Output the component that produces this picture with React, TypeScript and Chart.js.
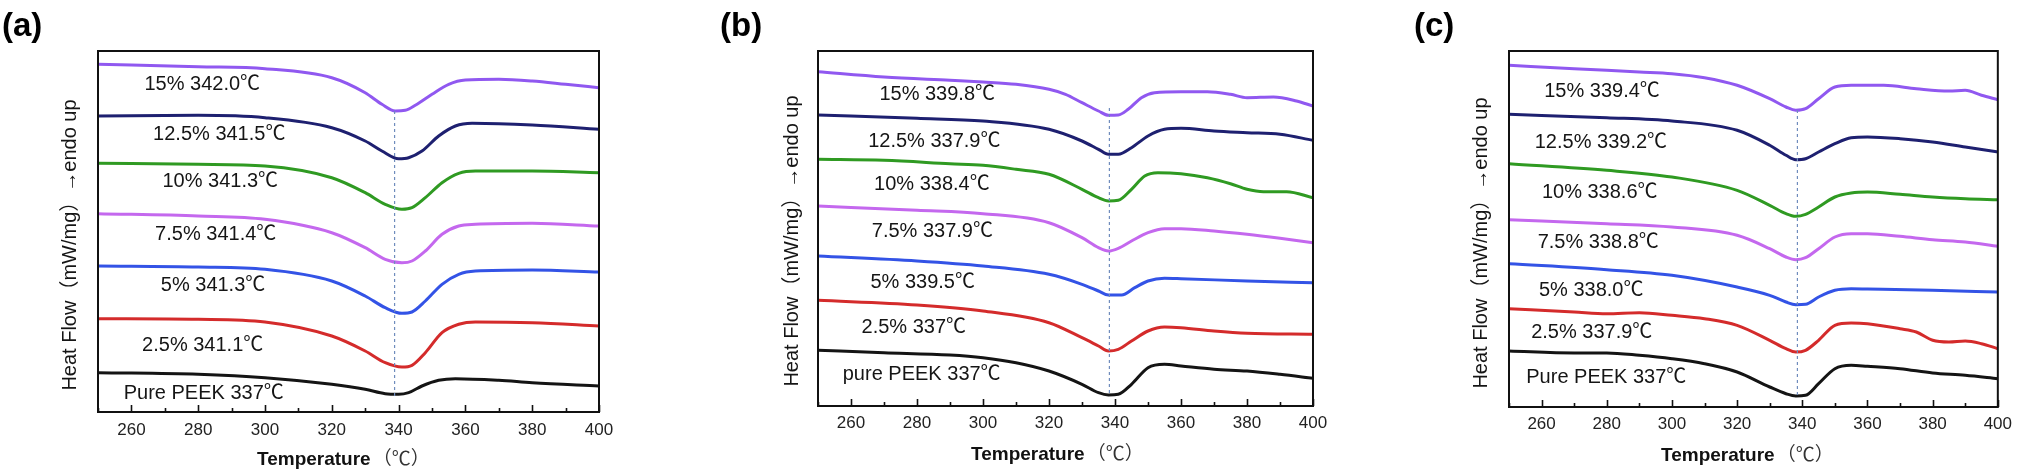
import { useEffect, useRef } from "react"
import { Chart, registerables } from "chart.js"

Chart.register(...registerables)

// samples, top curve to bottom curve
const seriesNames = ["15%", "12.5%", "10%", "7.5%", "5%", "2.5%", "Pure PEEK"]
const lineColors = ["#9058f0", "#1e2070", "#2f9a22", "#c468ee", "#3353e6", "#d42b2b", "#141414"]
const xTickLabels = ["260", "280", "300", "320", "340", "360", "380", "400"]

// (a) temperature (°C) / stacked heat flow (arb. units)
const tempA = [
    [250, 280, 300, 320, 330, 335, 339, 342, 345, 350, 355, 360, 370, 380, 390, 400],
    [250, 280, 300, 320, 330, 335, 340, 343, 347, 352, 357, 362, 380, 400],
    [250, 280, 300, 320, 330, 336, 341, 344, 348, 353, 358, 363, 380, 400],
    [250, 280, 300, 320, 330, 336, 341, 344, 348, 353, 358, 363, 380, 400],
    [250, 280, 300, 320, 330, 336, 341, 344, 348, 353, 358, 363, 380, 400],
    [250, 280, 300, 320, 330, 336, 341, 344, 348, 353, 358, 363, 380, 400],
    [250, 280, 300, 320, 330, 336, 340, 343, 347, 352, 357, 370, 380, 400],
]
const flowA = [
    [347.7, 345.3, 343.3, 334.3, 319.3, 307.7, 301, 301.7, 306.7, 317.7, 327.7, 332, 332.7, 331, 327.7, 324.3],
    [296, 296.7, 294.3, 284.3, 271, 261, 253.3, 254.3, 261, 276, 286, 288.7, 287, 282.7],
    [248.7, 247.7, 246, 234.3, 219.3, 207.7, 202.7, 204.3, 214.3, 229.3, 238.7, 241, 241, 239.3],
    [198.3, 196, 192.7, 179.3, 164.3, 152.7, 149.3, 151, 161, 177.7, 186, 187.7, 188.7, 186],
    [146, 145, 142.7, 131, 116, 104.3, 98.7, 100, 111, 127.7, 137.7, 141, 142, 140],
    [93.3, 92.7, 90, 76, 61, 49.3, 45, 46.7, 59.3, 79.3, 87.7, 90, 89.3, 86],
    [39.3, 37.7, 34.3, 27.7, 22.7, 18.3, 17.7, 19.3, 26, 31.7, 33.3, 31.7, 29.3, 26],
]
const labelsA = ["15% 342.0℃", "12.5% 341.5℃", "10% 341.3℃", "7.5% 341.4℃", "5% 341.3℃", "2.5% 341.1℃", "Pure PEEK 337℃"]
const dashTempA = [338.8, 338.8]
const dashFlowA = [301, 16]

// (b)
const tempB = [
    [250, 270, 290, 300, 310, 320, 325, 330, 335, 338, 341, 344, 348, 352, 360, 368, 375, 380, 388, 395, 400],
    [250, 280, 300, 320, 330, 335, 338, 341, 345, 350, 355, 360, 370, 380, 390, 400],
    [250, 270, 290, 300, 310, 320, 330, 335, 338, 341, 345, 349, 353, 360, 368, 375, 380, 385, 392, 400],
    [250, 280, 300, 320, 330, 335, 338, 341, 345, 350, 355, 360, 370, 380, 390, 400],
    [250, 280, 300, 320, 330, 335, 338, 342, 346, 350, 355, 360, 380, 400],
    [250, 280, 300, 320, 330, 335, 338, 341, 345, 350, 355, 360, 370, 380, 400],
    [250, 270, 290, 300, 310, 320, 330, 335, 338, 341, 345, 350, 355, 360, 370, 380, 390, 400],
]
const flowB = [
    [334.3, 329, 325.7, 324, 321.7, 316.7, 311.7, 303.3, 295, 290.7, 291, 296.7, 308.3, 313.3, 314.3, 314.3, 311.7, 308.3, 309, 305, 300],
    [291, 287.7, 285, 276.7, 265, 256.7, 251.7, 251.7, 258.3, 270, 276.7, 277.7, 275, 273.3, 271.7, 265.7],
    [246.7, 245.7, 242.3, 240.7, 236.7, 231.7, 216.7, 208.3, 205, 205.7, 216.7, 230, 233.3, 232.3, 228.3, 222.3, 216.7, 214.3, 214.3, 208.3],
    [200, 195.7, 192.3, 183.3, 168.3, 158.3, 155, 157.7, 165, 173.3, 177.3, 177.3, 175, 171.7, 167.7, 163.3],
    [150, 145, 140, 131.7, 121.7, 115, 111, 111, 118.3, 125, 127.7, 127.3, 125, 123.3],
    [105.7, 101, 95, 83.3, 68.3, 60, 55, 56.7, 65, 75, 79, 78.3, 75, 72.7, 71.7],
    [55.7, 53.3, 51, 48.3, 43.3, 35, 21.7, 13.3, 11, 11.7, 21.7, 38.3, 41.7, 40, 36.7, 35, 31.7, 27.7],
]
const labelsB = ["15% 339.8℃", "12.5% 337.9℃", "10% 338.4℃", "7.5% 337.9℃", "5% 339.5℃", "2.5% 337℃", "pure PEEK 337℃"]
const dashTempB = [338.3, 338.3]
const dashFlowB = [298, 10]

// (c)
const tempC = [
    [250, 270, 290, 300, 310, 320, 330, 335, 338, 341, 345, 350, 355, 365, 375, 385, 390, 395, 400],
    [250, 280, 300, 320, 330, 335, 338, 341, 345, 350, 355, 360, 370, 380, 390, 400],
    [250, 280, 300, 320, 330, 335, 338, 341, 345, 350, 355, 360, 370, 380, 390, 400],
    [250, 280, 300, 320, 330, 335, 338, 341, 345, 350, 355, 360, 370, 380, 390, 400],
    [250, 280, 300, 320, 330, 335, 338, 341, 345, 350, 355, 360, 380, 400],
    [250, 270, 280, 290, 300, 310, 320, 330, 335, 338, 341, 345, 350, 355, 360, 370, 375, 380, 385, 390, 395, 400],
    [250, 270, 280, 290, 300, 310, 320, 330, 335, 338, 341, 345, 350, 355, 360, 370, 380, 390, 400],
]
const flowC = [
    [341.7, 338.3, 335, 333.3, 329.3, 321.7, 308.3, 300, 296.7, 298.3, 308.3, 320, 321.7, 321.7, 318.3, 316, 316.7, 311.7, 307.3],
    [292.7, 289.3, 286, 276.7, 261.7, 251.7, 247.3, 248.3, 255, 263.3, 269.3, 270, 268.3, 265, 260, 255],
    [243.3, 236.7, 230, 216.7, 201.7, 193.3, 190.7, 192.7, 200, 210, 214, 215, 212.7, 210, 208.3, 207.3],
    [187.3, 183.3, 180, 171.7, 158.3, 150, 147.3, 149.3, 158.3, 170, 173.3, 173.3, 170.7, 167.3, 165, 160.7],
    [143.3, 137.3, 131.7, 120, 111.7, 105, 102.3, 102.7, 110, 116.7, 118.3, 118, 116.7, 115],
    [98.3, 95, 93.3, 94.3, 91.7, 88.3, 81.7, 66.7, 58.3, 55, 56.7, 66.7, 81.7, 84, 83.3, 78.3, 75, 66.7, 65, 66, 63.3, 58.3],
    [56, 54, 54, 51.7, 48.3, 43.3, 35, 20, 13.3, 11, 11.7, 23.3, 38.3, 41.7, 40.7, 38.3, 34, 31.7, 28.3],
]
const labelsC = ["15% 339.4℃", "12.5% 339.2℃", "10% 338.6℃", "7.5% 338.8℃", "5% 338.0℃", "2.5% 337.9℃", "Pure PEEK 337℃"]
const dashTempC = [338.5, 338.5]
const dashFlowC = [297, 11.7]

// where each curve label sits (temperature, flow) - placement only
const labelAtA = [[263.9, 327.7], [266.5, 277.7], [269.3, 231], [267.1, 177.7], [268.8, 126.7], [263.2, 66.7], [257.7, 18.7]]
const labelAtB = [[268.6, 311.7], [265.2, 265], [267, 221.7], [266.3, 175], [265.9, 124], [263.2, 78.3], [257.5, 31.7]]
const labelAtC = [[260.8, 316], [257.9, 265], [260.1, 215], [258.8, 165], [259.2, 116.7], [256.8, 75], [255.3, 30]]

const FONT = '"Liberation Sans", Arial, "Noto Sans CJK SC", sans-serif'
const CJK = '"Noto Sans CJK SC", "Liberation Sans", sans-serif'
const H = 476

const panels = [
    {
        letter: "(a)", left: 0, width: 640, padLeft: 98, padRight: 41, top: 51, bottom: 412, yMax: 361, tickPad: 8,
        letterX: 2, yTitleX: 70, yTitleY: 245, xTitleX: 257, xTitleBase: 465,
        temps: tempA, flows: flowA, labels: labelsA, labelAt: labelAtA, dashT: dashTempA, dashF: dashFlowA,
    },
    {
        letter: "(b)", left: 680, width: 660, padLeft: 138, padRight: 27, top: 51, bottom: 406, yMax: 355, tickPad: 7,
        letterX: 40, yTitleX: 112, yTitleY: 241, xTitleX: 291, xTitleBase: 460,
        temps: tempB, flows: flowB, labels: labelsB, labelAt: labelAtB, dashT: dashTempB, dashF: dashFlowB,
    },
    {
        letter: "(c)", left: 1360, width: 659, padLeft: 149, padRight: 15, top: 51, bottom: 407, yMax: 356, tickPad: 7,
        letterX: 54, yTitleX: 121, yTitleY: 243, xTitleX: 301, xTitleBase: 461,
        temps: tempC, flows: flowC, labels: labelsC, labelAt: labelAtC, dashT: dashTempC, dashF: dashFlowC,
    },
]

type PanelCfg = (typeof panels)[number]

function DscPanel({ cfg }: { cfg: PanelCfg }) {
    const canvasRef = useRef<HTMLCanvasElement>(null)

    useEffect(() => {
        if (!canvasRef.current) return

        const decor = {
            id: "decor",
            afterDatasetsDraw(chart: any) {
                const { ctx, chartArea: a } = chart
                const x = chart.scales.x
                const y = chart.scales.y
                ctx.save()

                // curve labels
                ctx.fillStyle = "#151515"
                ctx.font = `20px ${FONT}`
                ctx.textAlign = "left"
                ctx.textBaseline = "middle"
                cfg.labels.forEach((txt, i) => {
                    ctx.fillText(txt, x.getPixelForValue(cfg.labelAt[i][0]), y.getPixelForValue(cfg.labelAt[i][1]))
                })

                // frame
                ctx.strokeStyle = "#111"
                ctx.lineWidth = 2
                ctx.strokeRect(a.left, a.top, a.right - a.left, a.bottom - a.top)

                // inward tick marks on the bottom axis
                ctx.lineWidth = 1.6
                x.ticks.forEach((t: any) => {
                    const px = Math.round(x.getPixelForValue(t.value)) + 0.5
                    const len = t.value % 20 === 0 ? 7 : 4
                    ctx.beginPath()
                    ctx.moveTo(px, a.bottom)
                    ctx.lineTo(px, a.bottom - len)
                    ctx.stroke()
                })

                // panel letter
                ctx.fillStyle = "#000"
                ctx.font = `bold 33px ${FONT}`
                ctx.textBaseline = "alphabetic"
                ctx.fillText(cfg.letter, cfg.letterX, 36)

                // x title
                ctx.font = `bold 19px ${FONT}`
                ctx.fillStyle = "#111"
                ctx.fillText("Temperature", cfg.xTitleX, cfg.xTitleBase)
                const w = ctx.measureText("Temperature").width
                ctx.font = `19px ${CJK}`
                ctx.fillStyle = "#333"
                ctx.fillText("（℃）", cfg.xTitleX + w + 2, cfg.xTitleBase)

                // y title
                ctx.translate(cfg.yTitleX, cfg.yTitleY)
                ctx.rotate(-Math.PI / 2)
                ctx.font = `20px ${FONT}`
                ctx.fillStyle = "#151515"
                ctx.textAlign = "center"
                ctx.textBaseline = "middle"
                ctx.fillText("Heat Flow（mW/mg）→endo up", 0, 0)

                ctx.restore()
            },
        }

        const datasets: any[] = [
            {
                label: "peak",
                data: cfg.dashT.map((t, i) => ({ x: t, y: cfg.dashF[i] })),
                borderColor: "#6f8cbd",
                borderWidth: 1.2,
                borderDash: [3, 3],
                pointRadius: 0,
            },
            ...seriesNames.map((name, s) => ({
                label: name,
                data: cfg.temps[s].map((t, i) => ({ x: t, y: cfg.flows[s][i] })),
                borderColor: lineColors[s],
                borderWidth: 3,
                pointRadius: 0,
                cubicInterpolationMode: "monotone",
            })),
        ]

        const chart = new Chart(canvasRef.current, {
            type: "line",
            data: { datasets },
            options: {
                animation: false,
                responsive: true,
                maintainAspectRatio: false,
                events: [],
                layout: { padding: { left: cfg.padLeft, right: cfg.padRight, top: cfg.top, bottom: 0 } },
                plugins: { legend: { display: false }, tooltip: { enabled: false } },
                scales: {
                    x: {
                        type: "linear",
                        min: 250,
                        max: 400,
                        border: { display: false },
                        grid: { display: false, drawTicks: false },
                        ticks: {
                            stepSize: 10,
                            autoSkip: false,
                            maxRotation: 0,
                            padding: cfg.tickPad,
                            color: "#222",
                            font: { family: FONT, size: 17 },
                            callback: (v: any) => (xTickLabels.includes(String(v)) ? String(v) : ""),
                        },
                        afterFit: (s: any) => {
                            s.height = H - cfg.bottom
                        },
                    },
                    y: { display: false, min: 0, max: cfg.yMax },
                },
            },
            plugins: [decor],
        })

        return () => chart.destroy()
    }, [cfg])

    return (
        <div style={{ position: "absolute", left: cfg.left, top: 0, width: cfg.width, height: H }}>
            <canvas ref={canvasRef}></canvas>
        </div>
    )
}

export default function App() {
    return (
        <div style={{ position: "fixed", left: 0, top: 0, width: 2019, height: H, background: "#fff" }}>
            {panels.map((p) => (
                <DscPanel key={p.letter} cfg={p} />
            ))}
        </div>
    )
}
